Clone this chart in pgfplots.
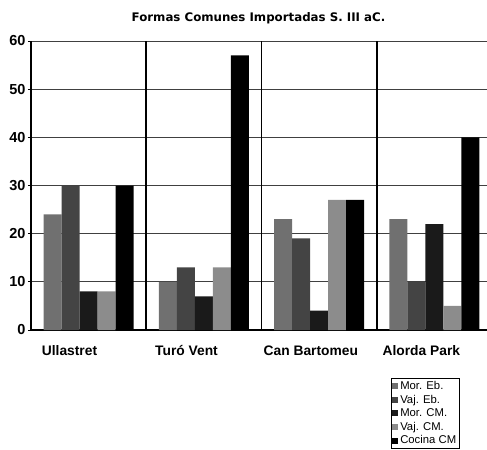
\documentclass[border=0pt]{standalone}
\usepackage{pgfplots}
\pgfplotsset{compat=1.18}
\usepackage{fontspec}
\setmainfont{Liberation Sans}
\newfontfamily\titlefont{DejaVu Sans}
\definecolor{morEb}{HTML}{707070}
\definecolor{vajEb}{HTML}{444444}
\definecolor{morCM}{HTML}{1A1A1A}
\definecolor{vajCM}{HTML}{8C8C8C}
\definecolor{cocCM}{HTML}{000000}
\begin{document}
\begin{tikzpicture}
\begin{axis}[
  at={(0,0)}, anchor=south west,
  scale only axis, width=461bp, height=289bp,
  xmin=-0.5, xmax=3.5, ymin=0, ymax=60,
  ybar=0pt, bar width=18bp,
  xtick={-0.166,0.849,1.928,2.887},
  xticklabels={Ullastret, Turó Vent, Can Bartomeu, Alorda Park},
  xticklabel style={font=\fontsize{13.8bp}{16bp}\selectfont\bfseries, yshift=-9bp},
  x tick style={draw=none},
  extra x ticks={0.5,1.5,2.5}, extra x tick labels={},
  extra x tick style={grid=major, major grid style={black, line width=1.6bp}, tick style={draw=none}},
  ytick={0,10,...,60},
  ymajorgrids, y grid style={black!75, line width=0.9bp},
  /pgf/number format/assume math mode=true,
  yticklabel style={font=\fontsize{14.5bp}{16bp}\selectfont\bfseries, xshift=1bp},
  tick align=outside, major tick length=3bp, y tick style={black, line width=0.8bp},
  axis x line*=bottom, axis y line*=left,
  axis line style={-, black, line width=1.3bp},
  title={Formas Comunes Importadas S. III aC.},
  title style={font=\titlefont\fontsize{11.8bp}{13bp}\selectfont\bfseries, at={(0.5,1)}, anchor=center, yshift=17bp, xshift=-3bp},
  legend style={at={(0,0)}, anchor=north west, xshift=360bp, yshift=-48bp,
    draw=black, line width=0.6bp, font=\fontsize{11.3bp}{12bp}\selectfont,
    inner xsep=1bp, inner ysep=1bp, row sep=0bp, fill=white},
  legend cell align=left,
  legend image code/.code={\fill[#1] (0bp,-3bp) rectangle (6bp,3bp);},
  every axis plot/.append style={draw=none},
]
\addplot[fill=morEb] coordinates {(0,24) (1,10) (2,23) (3,23)};
\addplot[fill=vajEb] coordinates {(0,30) (1,13) (2,19) (3,10)};
\addplot[fill=morCM] coordinates {(0,8) (1,7) (2,4) (3,22)};
\addplot[fill=vajCM] coordinates {(0,8) (1,13) (2,27) (3,5)};
\addplot[fill=cocCM] coordinates {(0,30) (1,57) (2,27) (3,40)};
\legend{Mor. Eb., Vaj. Eb., Mor. CM., Vaj. CM., Cocina CM}
\end{axis}
\pgfresetboundingbox
\useasboundingbox (-31bp,-120bp) rectangle (456bp,330bp);
\end{tikzpicture}
\end{document}
